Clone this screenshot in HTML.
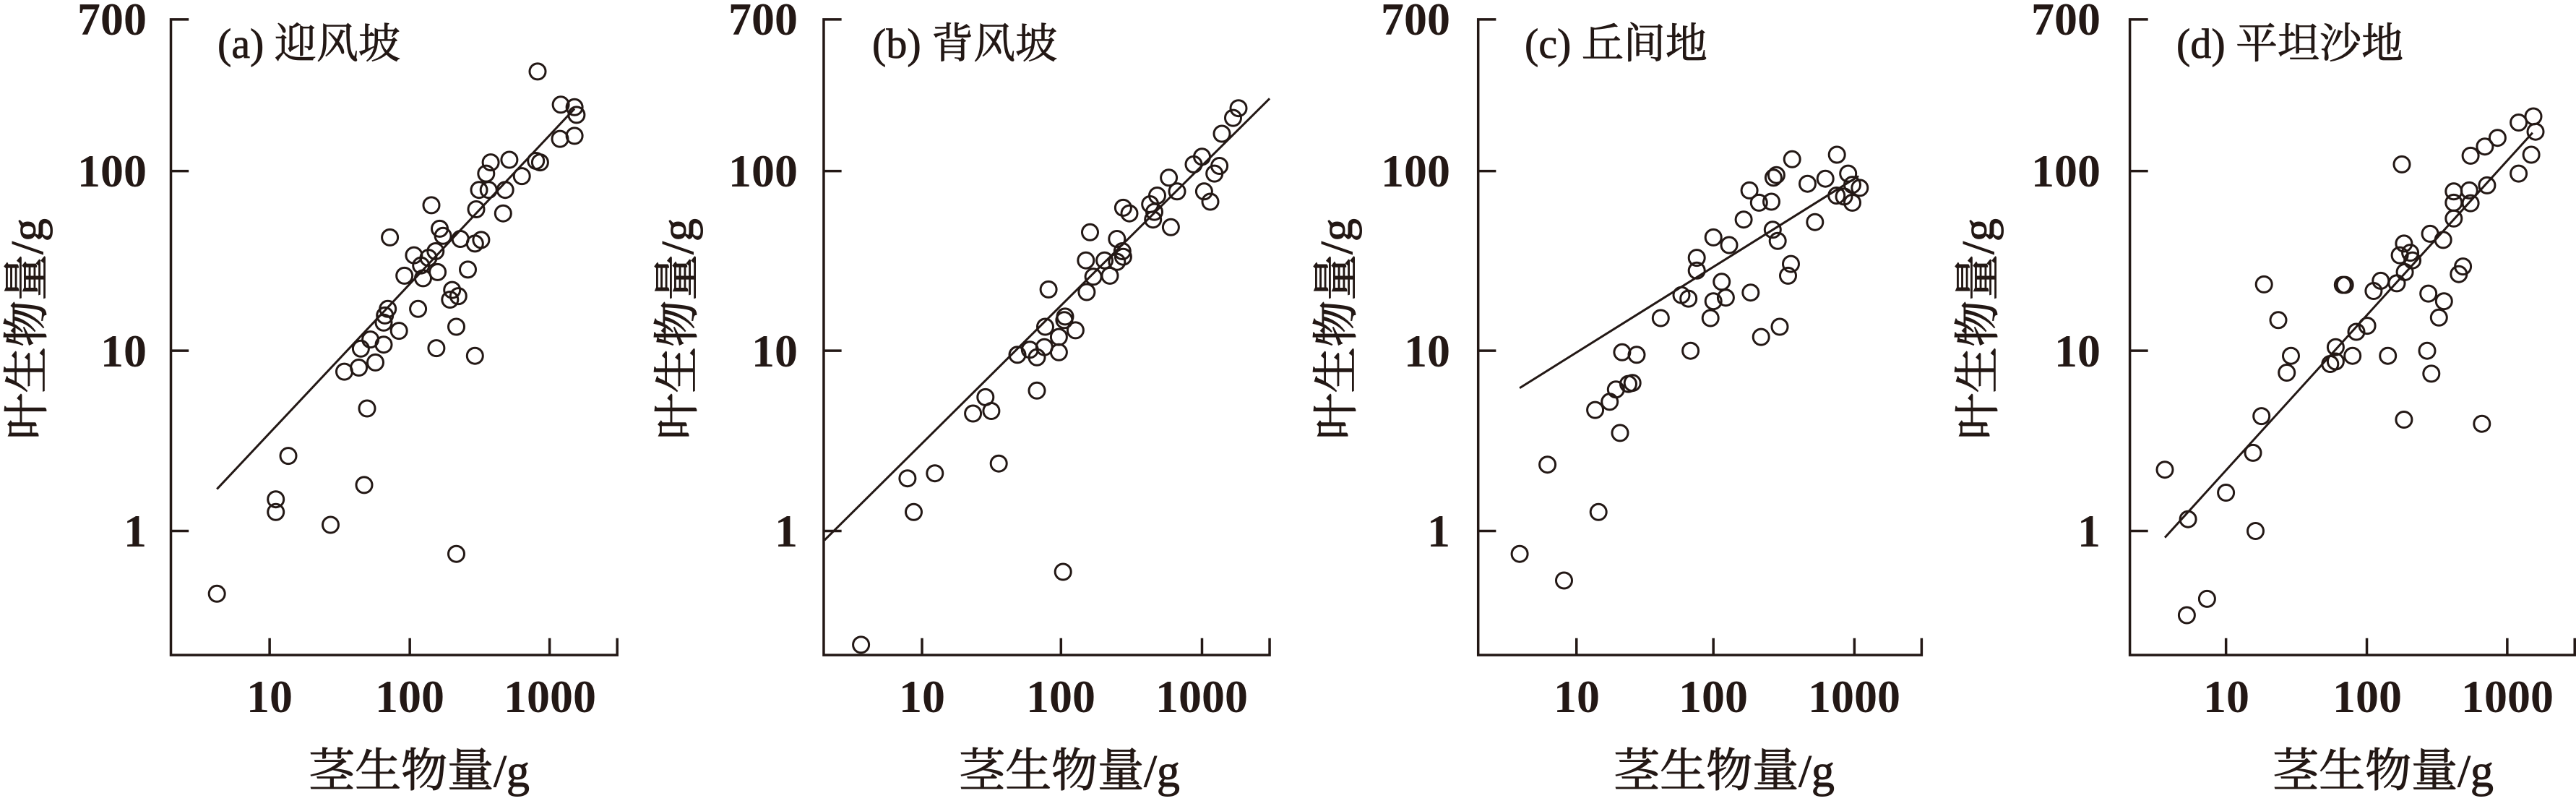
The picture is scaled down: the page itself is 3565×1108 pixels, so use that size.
<!DOCTYPE html>
<html><head><meta charset="utf-8"><style>
html,body{margin:0;padding:0;background:#fff;}
svg{display:block;}
text{font-family:"Liberation Serif","Noto Serif CJK SC",serif;fill:#231815;}
.tl{font-size:64px;font-weight:bold;}
.ttl{font-size:64px;stroke:#231815;stroke-width:1px;}
.pt{font-size:58px;stroke:#231815;stroke-width:0.8px;}
</style></head><body>
<svg width="3565" height="1108" viewBox="0 0 3565 1108" xmlns="http://www.w3.org/2000/svg">
<defs>
<style>
.ax{stroke:#231815;stroke-width:3.5;fill:none;vector-effect:non-scaling-stroke;}
.fl{stroke:#231815;stroke-width:3;fill:none;vector-effect:non-scaling-stroke;}
</style>
</defs>

<g transform="translate(0,0) scale(0.57405,0.70621)">
<path class="ax" d="M455,38H412V1283H1488V1250 M412,335H455 M412,687H455 M412,1040H455 M650,1283V1250 M988,1283V1250 M1325,1283V1250"/>
<path class="fl" d="M523,958L1385,213"/>
</g>
<g transform="translate(900,0) scale(0.57405,0.70621)">
<path class="ax" d="M461,38H418V1283H1493V1250 M418,335H461 M418,687H461 M418,1040H461 M655,1283V1250 M990,1283V1250 M1330,1283V1250"/>
<path class="fl" d="M420,1058L1493,193"/>
</g>
<g transform="translate(1800,0) scale(0.57405,0.70621)">
<path class="ax" d="M471,38H428V1283H1497V1250 M428,335H471 M428,687H471 M428,1040H471 M665,1283V1250 M995,1283V1250 M1335,1283V1250"/>
<path class="fl" d="M528,760L1345,345"/>
</g>
<g transform="translate(2650,0) scale(0.58353,0.70621)">
<path class="ax" d="M553,38H510V1283H1565V1250 M510,335H553 M510,687H553 M510,1040H553 M738,1283V1250 M1072,1283V1250 M1405,1283V1250"/>
<path class="fl" d="M593,1053L1465,260"/>
</g>

<g>
<text class="tl" x="203" y="48" text-anchor="end">700</text>
<text class="tl" x="203" y="258" text-anchor="end">100</text>
<text class="tl" x="203" y="507" text-anchor="end">10</text>
<text class="tl" x="203" y="756" text-anchor="end">1</text>
<text class="tl" x="373" y="985" text-anchor="middle">10</text>
<text class="tl" x="567" y="985" text-anchor="middle">100</text>
<text class="tl" x="761" y="985" text-anchor="middle">1000</text>
<text class="ttl" x="580" y="1088" text-anchor="middle">茎生物量/g</text>
<text class="ttl" transform="translate(59,455) rotate(-90)" text-anchor="middle">叶生物量/g</text>
<text class="pt" x="301" y="80">(a) 迎风坡</text>
</g>
<g>
<text class="tl" x="1104" y="48" text-anchor="end">700</text>
<text class="tl" x="1104" y="258" text-anchor="end">100</text>
<text class="tl" x="1104" y="507" text-anchor="end">10</text>
<text class="tl" x="1104" y="756" text-anchor="end">1</text>
<text class="tl" x="1276" y="985" text-anchor="middle">10</text>
<text class="tl" x="1468" y="985" text-anchor="middle">100</text>
<text class="tl" x="1663" y="985" text-anchor="middle">1000</text>
<text class="ttl" x="1480" y="1088" text-anchor="middle">茎生物量/g</text>
<text class="ttl" transform="translate(959,455) rotate(-90)" text-anchor="middle">叶生物量/g</text>
<text class="pt" x="1207" y="80">(b) 背风坡</text>
</g>
<g>
<text class="tl" x="2007" y="48" text-anchor="end">700</text>
<text class="tl" x="2007" y="258" text-anchor="end">100</text>
<text class="tl" x="2007" y="507" text-anchor="end">10</text>
<text class="tl" x="2007" y="756" text-anchor="end">1</text>
<text class="tl" x="2182" y="985" text-anchor="middle">10</text>
<text class="tl" x="2371" y="985" text-anchor="middle">100</text>
<text class="tl" x="2566" y="985" text-anchor="middle">1000</text>
<text class="ttl" x="2386" y="1088" text-anchor="middle">茎生物量/g</text>
<text class="ttl" transform="translate(1871,455) rotate(-90)" text-anchor="middle">叶生物量/g</text>
<text class="pt" x="2110" y="80">(c) 丘间地</text>
</g>
<g>
<text class="tl" x="2907" y="48" text-anchor="end">700</text>
<text class="tl" x="2907" y="258" text-anchor="end">100</text>
<text class="tl" x="2907" y="507" text-anchor="end">10</text>
<text class="tl" x="2907" y="756" text-anchor="end">1</text>
<text class="tl" x="3081" y="985" text-anchor="middle">10</text>
<text class="tl" x="3276" y="985" text-anchor="middle">100</text>
<text class="tl" x="3470" y="985" text-anchor="middle">1000</text>
<text class="ttl" x="3298" y="1088" text-anchor="middle">茎生物量/g</text>
<text class="ttl" transform="translate(2759,455) rotate(-90)" text-anchor="middle">叶生物量/g</text>
<text class="pt" x="3012" y="80">(d) 平坦沙地</text>
</g>

<script>
(function(){
var ns="http://www.w3.org/2000/svg";
var svg=document.querySelector("svg");
var P=[
[0,0.57405,[[1296,140],[1352,205],[1385,210],[1390,225],[1350,272],[1385,266],[1292,315],[1302,318],[1183,318],[1228,313],[1172,340],[1258,345],[1218,372],[1155,372],[1178,372],[1148,410],[1213,418],[1040,402],[1060,448],[1068,462],[940,465],[1110,468],[1160,470],[1145,477],[1050,492],[998,500],[1015,520],[1033,505],[975,540],[1020,545],[1055,533],[1128,528],[1090,568],[1105,580],[1085,587],[1008,605],[935,605],[928,618],[925,632],[962,648],[1100,640],[893,665],[870,683],[925,675],[1052,682],[1145,697],[865,720],[905,710],[830,728],[885,800],[695,893],[878,950],[665,978],[665,1003],[797,1028],[1100,1085],[523,1163]]],
[900,0.57405,[[1418,212],[1405,231],[1378,262],[1310,322],[1330,307],[1372,325],[1360,340],[1250,348],[1270,375],[1222,383],[1335,375],[1350,395],[1205,400],[1215,415],[1212,430],[1255,445],[1140,407],[1155,418],[1060,455],[1125,468],[1138,492],[1140,503],[1095,510],[1125,513],[1108,540],[1050,510],[1068,542],[1052,572],[960,567],[998,627],[952,640],[1000,620],[1025,647],[985,660],[950,680],[915,685],[985,690],[932,700],[885,695],[932,765],[808,778],[822,805],[778,810],[840,908],[620,937],[686,927],[635,1003],[995,1120],[508,1263]]],
[1800,0.57405,[[1293,303],[1185,312],[1320,340],[1147,343],[1140,348],[1265,350],[1222,360],[1330,362],[1348,368],[1082,373],[1292,383],[1310,385],[1330,397],[1105,397],[1135,395],[1068,430],[1240,435],[1138,450],[1150,472],[995,465],[1033,480],[955,505],[955,530],[1182,517],[1175,540],[1015,552],[918,578],[935,585],[1025,583],[995,590],[1085,573],[868,623],[988,623],[1110,660],[1155,640],[940,687],[775,690],[810,695],[800,750],[790,752],[760,763],[745,787],[710,803],[770,848],[595,910],[718,1003],[528,1085],[635,1137]]],
[2650,0.58353,[[1467,228],[1432,240],[1472,258],[1382,270],[1352,287],[1318,305],[1462,303],[1432,340],[1155,322],[1357,363],[1278,375],[1315,373],[1278,397],[1318,398],[1278,428],[1222,458],[1253,470],[1160,477],[1150,500],[1175,495],[1180,510],[1162,533],[1143,555],[1105,550],[1088,570],[1300,522],[1290,537],[1218,575],[1255,590],[1243,622],[1073,638],[1047,650],[1020,558],[1015,558],[828,557],[862,627],[985,713],[998,680],[998,708],[1038,697],[1122,697],[892,697],[882,730],[1215,687],[1225,732],[822,815],[1160,822],[1345,830],[802,887],[738,965],[593,920],[648,1017],[808,1040],[693,1173],[645,1205]]]
];
var g=document.createElementNS(ns,"g");
g.setAttribute("fill","none");g.setAttribute("stroke","#231815");g.setAttribute("stroke-width","3");
P.forEach(function(p){p[2].forEach(function(c){
var e=document.createElementNS(ns,"circle");
e.setAttribute("cx",(p[0]+c[0]*p[1]).toFixed(1));
e.setAttribute("cy",(c[1]*0.70621).toFixed(1));
e.setAttribute("r","11");
g.appendChild(e);});});
svg.appendChild(g);
})();
</script>
</svg>
</body></html>
